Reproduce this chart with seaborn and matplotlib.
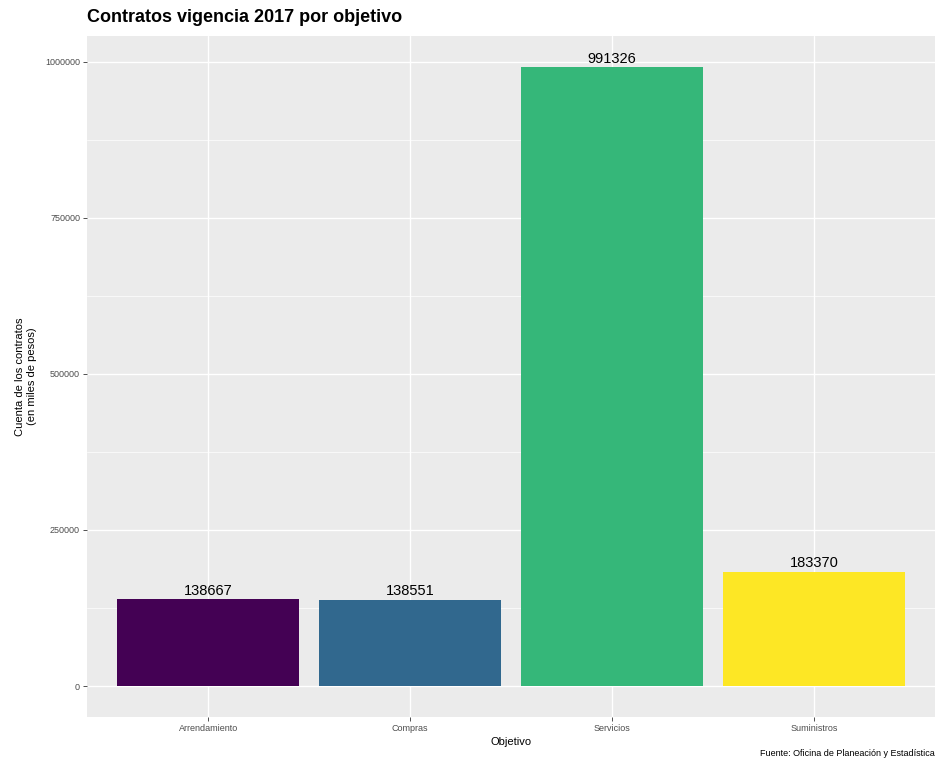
import matplotlib
matplotlib.use("Agg")
import matplotlib.pyplot as plt
import seaborn as sns
import pandas as pd

categories = ["Arrendamiento", "Compras", "Servicios", "Suministros"]
values = [138667, 138551, 991326, 183370]
colors = ["#440154", "#31688E", "#35B779", "#FDE725"]
yticks = [0, 250000, 500000, 750000, 1000000]

df = pd.DataFrame({"Objetivo": categories, "Cuenta": values})

sns.set_theme(style="darkgrid", rc={"axes.facecolor": "#EBEBEB", "grid.color": "white"})
plt.rcParams["font.family"] = ["Liberation Sans", "DejaVu Sans"]

fig = plt.figure(figsize=(9.38, 7.63), dpi=100)
ax = fig.add_axes([87/938, 1-717/763, (935-87)/938, (717-36)/763])

sns.barplot(data=df, x="Objetivo", y="Cuenta", hue="Objetivo", palette=colors,
            width=0.9, legend=False, ax=ax, saturation=1, linewidth=0, edgecolor="none")

ax.set_xlim(-0.6, 3.6)
vmax = max(values)
ax.set_ylim(-0.05*vmax, 1.05*vmax)
ax.set_yticks(yticks)
ax.set_yticklabels([str(t) for t in yticks])
ax.set_yticks([125000, 375000, 625000, 875000], minor=True)
ax.grid(True, which="major", color="white", linewidth=1.0)
ax.grid(True, which="minor", color="white", linewidth=0.5)
ax.set_axisbelow(True)
ax.tick_params(axis="both", which="major", labelsize=6.5, colors="#4D4D4D",
               length=3, width=0.6, color="#333333", pad=2, left=True, bottom=True)
ax.tick_params(axis="y", which="minor", length=0)
for s in ax.spines.values():
    s.set_visible(False)

for i, v in enumerate(values):
    ax.text(i, v + 2000, str(v), ha="center", va="bottom", fontsize=10.5, color="black")

ax.set_xlabel("Objetivo", fontsize=8, color="black", labelpad=3)
ax.set_ylabel("Cuenta de los contratos\n(en miles de pesos)", fontsize=8, color="black", labelpad=6)

fig.text(87/938, 1-18/763, "Contratos vigencia 2017 por objetivo", fontsize=13,
         fontweight="bold", ha="left", va="center", color="black")
fig.text(935/938, 1-754/763, "Fuente: Oficina de Planeación y Estadística", fontsize=6.5,
         ha="right", va="center", color="black")

fig.savefig("out.png", dpi=100)
